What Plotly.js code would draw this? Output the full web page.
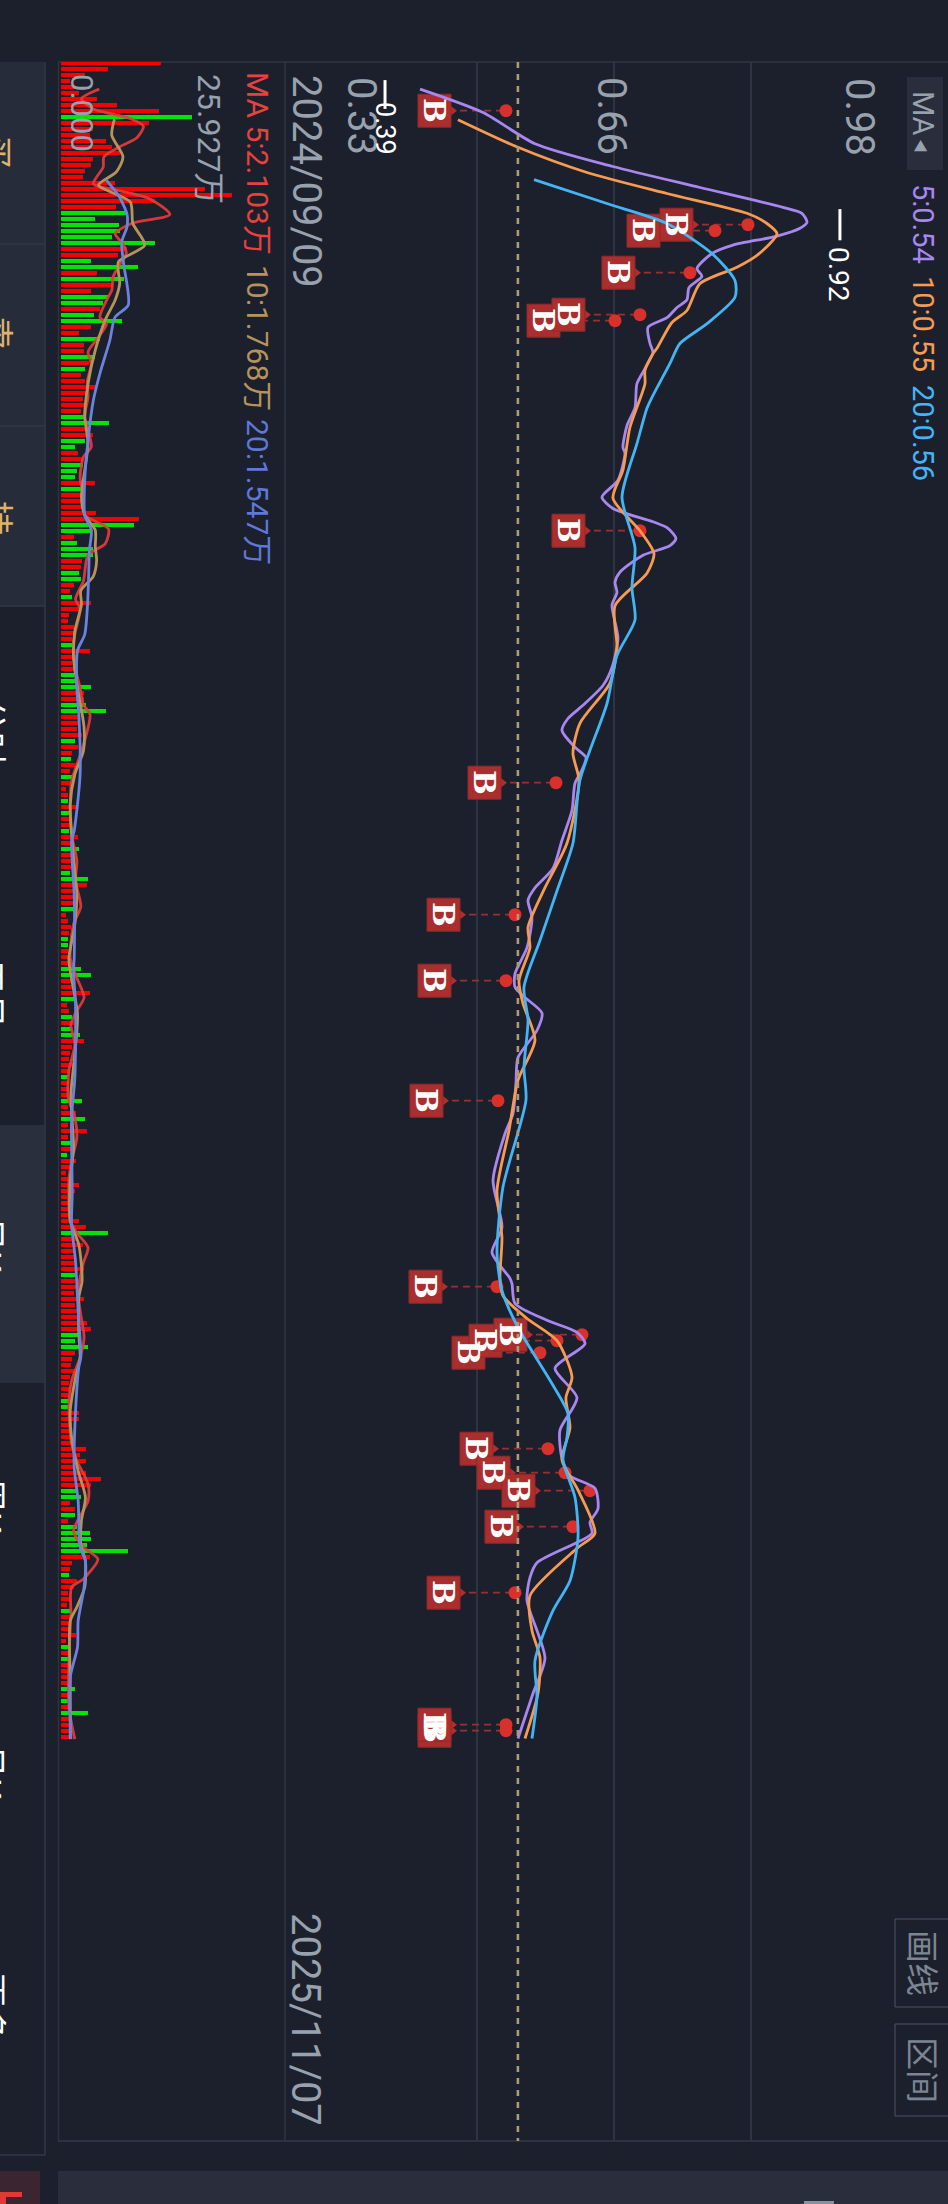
<!DOCTYPE html>
<html><head><meta charset="utf-8">
<script src="https://cdn.plot.ly/plotly-3.0.1.min.js"></script>
<style>html,body{margin:0;padding:0;background:#1c202c;overflow:hidden}#c{width:948px;height:2204px}</style>
</head><body><div id="c"></div>
<script>
// ---------- data ----------
const volumes=[15.2,7.1,3.6,1.4,2.1,2.7,5.5,8.5,14.9,19.9,
13.3,4.9,4.4,6.8,7.7,8.9,4.8,4.6,3.6,3.4,
8.2,21.9,25.9,14.2,8.3,9.8,5.2,8.8,8.9,7.7,
14.2,10.0,8.7,4.5,11.6,5.5,9.5,7.9,4.6,7.2,
6.4,5.9,5.0,9.2,4.6,2.8,5.9,3.5,3.5,5.2,
4.3,3.6,3.1,3.6,5.3,3.9,3.4,3.6,3.0,3.6,
7.3,3.6,4.9,3.7,2.1,2.6,3.4,3.3,2.4,2.1,
5.2,3.4,3.1,3.4,3.4,5.3,11.8,11.1,4.4,1.9,
2.4,4.9,4.9,3.2,3.1,2.7,3.1,2.0,1.4,1.7,
4.6,2.7,1.2,1.1,2.0,2.1,1.6,1.6,4.4,2.2,
1.6,1.9,2.0,2.2,4.5,3.5,3.5,3.8,6.8,2.7,
2.9,2.4,3.2,2.1,2.6,1.6,1.5,2.1,1.4,1.6,
1.4,0.8,1.1,1.1,2.3,1.2,1.2,1.4,1.2,2.6,
1.4,2.7,1.6,1.6,1.6,1.4,4.1,3.9,1.9,1.9,
1.9,1.9,0.8,1.1,1.5,1.2,1.0,1.0,1.1,1.1,
1.0,3.1,4.6,1.9,1.9,4.4,1.9,0.9,1.2,1.6,
1.9,1.5,2.9,3.5,1.7,1.4,1.2,1.9,1.4,1.1,
1.2,1.2,1.1,3.2,1.0,2.3,3.6,1.0,4.0,1.0,
1.5,1.6,0.9,2.2,1.4,0.8,1.4,2.7,2.1,0.9,
1.1,1.4,1.0,2.7,3.8,7.1,2.4,3.4,2.1,2.2,
2.2,3.5,2.1,2.1,2.4,2.0,3.5,2.1,3.1,2.4,
3.9,4.5,2.9,2.1,4.1,2.1,1.6,1.5,2.1,1.4,
1.2,1.5,1.0,1.2,1.2,2.8,2.7,1.6,1.5,1.4,
1.6,3.8,2.9,3.8,1.9,3.8,6.0,4.6,2.4,3.1,
1.4,2.1,2.1,1.1,2.5,4.4,4.6,3.9,10.2,4.4,
1.6,1.4,1.2,2.4,1.9,1.0,1.4,0.9,1.4,1.4,
1.4,1.4,2.2,0.8,1.2,1.1,1.2,1.2,1.2,1.4,
1.2,2.1,1.2,1.2,1.2,4.1,1.4,1.4,1.5,1.5];
const downSessions=[9,25,26,27,28,29,30,33,34,36,39,40,42,43,46,49,51,59,60,63,64,67,68,69,71,77,78,80,81,82,85,86,89,97,102,103,104,107,108,113,116,119,123,125,128,131,135,136,141,146,147,151,152,156,159,161,162,169,173,176,180,182,195,202,212,213,214,223,224,238,239,242,244,245,246,247,248,252,258,264,266,271,273,275];

const ma5Sessions=[4.4,8.3,13.5,17.3,20.8,24.1,25.1,26.6,27.6,28.9,30.4,31.8,34.3,35.6,37.5,39.5,40.8,42.5,44.1,46.8,48.3,51,53.5,57.5,60.5,64.1,65.1,69.6,72.4,74.3,76.5,77.6,79.3,80.5,82.1,84.9,86.6,88.3,90.4,95.9,100.8,103.8,107.1,109.3,111.3,114.1,115.8,117.9,120.1,124.6,129.6,134.3,137.5,139.6,142.5,147.5,151.8,154.1,155.8,158.4,161.3,165.8,170.1,175.1,178.5,186.3,194.1,198.3,202.6,203.5,206.8,209.6,211.6,213.5,217.6,222.5,227.9,232.6,235.5,237.6,241,243.3,245.1,250,252.5,256.3,265.9,271.8,279.3];
const ma5Prices=[.4249,.4996,.5613,.6538,.7570,.8554,.8779,.8839,.8756,.8483,.7961,.7712,.7534,.7593,.7439,.7415,.7297,.7178,.6953,.6977,.7012,.6917,.6822,.6799,.6704,.6656,.6680,.6597,.6407,.6538,.7012,.7190,.7285,.7214,.6894,.6621,.6562,.6585,.6526,.6597,.6526,.6419,.6182,.6004,.5933,.6087,.6218,.6170,.6087,.6052,.5933,.5826,.5613,.5530,.5577,.5518,.5376,.5376,.5494,.5696,.5636,.5411,.5387,.5352,.5257,.5115,.5221,.5103,.5316,.5340,.5376,.5755,.6111,.6206,.5850,.6111,.5909,.5933,.6028,.6324,.6360,.6265,.6289,.5636,.5553,.5518,.5731,.5589,.5411];

const ma10Sessions=[9.5,14.1,18.3,21.8,25.1,26.8,28.5,32,34.1,36.8,41.3,43.3,47.6,48.5,51.3,53.5,60.8,67.9,72.6,78,81.8,85.1,90.5,97.5,103.4,110.1,115.1,119.6,130.1,137.5,144.1,147.5,153,156.8,162.9,169.6,178,188,195.8,202.5,205.5,209.3,213,219.1,222.5,227.5,232.9,237.9,245.1,247.6,255.5,261.3,265.8,271.8,279.3];
const ma10Prices=[.4699,.5411,.6229,.7178,.8127,.8364,.8483,.8257,.8008,.7570,.7415,.7237,.7060,.7012,.6917,.6917,.6739,.6656,.6538,.6858,.7024,.6941,.6562,.6585,.6502,.6146,.6063,.6135,.5992,.5731,.5530,.5553,.5423,.5470,.5613,.5411,.5304,.5162,.5221,.5198,.5233,.5518,.5874,.6052,.5980,.6028,.5933,.6123,.6324,.6111,.5553,.5577,.5672,.5648,.5494];

const ma20Sessions=[19.5,23.8,26.8,31.8,36.3,39.1,43.5,46.8,50.1,55.8,57.6,63.5,72.4,80.8,87.5,92.9,98.8,106.8,119.6,130.1,138,146.3,154.1,159.6,167.5,172.9,187.4,198.4,204.6,210.8,219.6,225.1,229.1,232.9,239.1,245.8,253,258,266.3,272.4,279.3];
const ma20Prices=[.5601,.6538,.7178,.7712,.7985,.7985,.7653,.7332,.7214,.7000,.6941,.6822,.6645,.6799,.6763,.6799,.6585,.6467,.6146,.6063,.5874,.5672,.5482,.5530,.5482,.5506,.5233,.5162,.5221,.5411,.5791,.6004,.5992,.5945,.6087,.6123,.6028,.5826,.5613,.5636,.5577];

const volMa5Sessions=[4.4,6,7.7,9.3,10.6,12.5,14,15.7,17.4,20.2,21.3,22.7,25.3,26.8,28.5,30.2,31.8,34,35.7,37.9,39.6,42.4,43.5,45.7,48.2,50.2,53,55.7,59,64,65.7,69,72.4,75.4,77.7,80.2,82,86.4,89.4,91,95.3,98,102,104.2,107,108.6,113,117,119.7,124,128.6,133,136.4,140.6,143.6,149.2,152.5,155.8,158,160.3,163.6,168,172.5,175.8,179.2,183,186.4,193,195,197.5,200,204.7,208,212.5,215.8,219.7,223.6,230.2,233,236.9,239.7,244.7,247.4,249.4,252.7,254.1,258.6,266.3,274.1,279.4];
const volMa5Values=[5.8,3.1,4.9,10.5,12.5,11.5,8.9,6.5,6.4,4.9,8.7,13.5,16.5,10.7,8.2,9.4,9.9,8.7,7.9,7.7,6.9,5.9,6.9,5.7,4.1,4.6,4.0,4.1,3.6,4.6,3.4,2.9,3.4,3.6,7.2,6.7,4.1,3.4,2.2,2.9,2.1,1.9,2.4,2.9,3.4,4.4,3.6,2.4,1.6,1.4,1.6,2.4,2.2,3.0,1.9,1.4,2.4,3.5,2.4,1.5,2.1,1.2,1.1,2.1,2.4,1.6,1.2,1.4,2.4,4.1,3.4,2.6,2.9,3.5,2.9,1.6,1.2,1.6,2.4,4.1,4.1,1.9,3.4,5.6,3.4,1.6,1.5,1.2,1.2,2.1];

const volMa10Sessions=[9.4,12.1,15.7,18.2,20.4,23.2,26.8,30.4,33.2,36.8,39.6,42.9,47.9,53.5,59,63.5,72.4,75.4,77.9,80.7,83,85.6,88,90.3,94.7,99.2,104.2,110.8,114.7,118.6,123.6,132.5,138.6,143.6,149.2,151.4,158.6,165.3,172,180.8,186.4,193,197,203,205.8,212,215.8,219.7,224.7,229.1,234.7,239.1,243,246.9,249.7,254.1,257.4,259.7,269.7,279.4];
const volMa10Values=[8.1,7.7,9.4,8.4,5.7,10.5,10.9,12.7,8.7,8.9,8.2,6.7,5.2,4.1,3.6,4.1,3.1,3.6,5.2,5.2,5.4,4.9,3.0,3.1,2.1,1.9,2.5,3.5,3.4,2.1,1.4,1.9,2.4,2.1,1.2,1.4,2.5,2.1,1.5,1.9,1.4,1.4,2.7,3.2,2.7,2.7,2.9,2.1,1.4,1.6,2.6,3.7,3.1,3.0,3.7,3.6,2.4,1.4,1.4,1.4];

const volMa20Sessions=[19.6,22.1,25.2,27.4,29.9,33.5,40.4,42.4,46.3,51.8,56.3,62.9,69.6,75.4,77.9,81.3,85.3,90.8,95.3,98,104.2,108.6,118.6,128,129.7,138.6,149.2,151.4,156.9,169.2,175.8,188.6,193.6,199.7,208,215.8,217.4,227.4,234.1,239.7,247.4,249.7,254.1,259.7,264.1,269.1,279.4];
const volMa20Values=[6.9,8.7,10.0,10.0,9.2,9.5,10.2,8.2,7.4,5.9,4.9,4.1,3.6,3.6,4.6,4.3,4.2,4.0,3.6,2.5,2.4,2.7,2.9,2.0,1.6,2.0,2.0,1.9,2.2,2.1,1.6,1.7,1.6,2.2,2.6,3.0,2.7,2.1,2.0,2.6,2.9,3.7,3.5,2.6,2.5,1.4,1.5];

// buy signals, listed in paint order
const buySessions=[278,277,173,204,153,8,255,142,215,231,120,213,235,43,244,212,238,42,78,35,28,27];
const buyPrices=[.5269,.5269,.5174,.5162,.5269,.5269,.5376,.5376,.5672,.5767,.5862,.5874,.5969,.6562,.6063,.6170,.6265,.6858,.6858,.7451,.7748,.8139];

const priceGrid=[.33,.4925,.655,.8175];
const priceRange=[.33,.98];
const volMax=25.927;
const lastPrice=.541, highPrice=.923, lowPrice=.3834;
const highSession=27, lowSession=5.3;

const priceTicks=["0.98","0.66","0.33"];
const dateTicks=["2024/09/09","2025/11/07"];
const priceLegend=["5:0.54","10:0.55","20:0.56"];
const volLegend=["MA 5:2.103万","10:1.768万","20:1.547万"];

// ---------- page geometry ----------
const W=948,H=2204, plotTop=62,plotBottom=2141, k=(priceRange[1]-priceRange[0])/548;
const px=x=>x/W, py=y=>1-y/H;
const ids=volumes.map((_,i)=>i);
const down=new Set(downSessions);
const colBg='#1c202c', grey='#98a1ae';
const F="Roboto, 'Noto Sans CJK SC', sans-serif";

function mline(x,y,c,w,xa,op){return {type:'scatter',mode:'lines',x,y,xaxis:xa,yaxis:'y',opacity:op||1,hoverinfo:'skip',
  line:{color:c,width:w,shape:'spline',smoothing:.7}};}

const seg={x:[],y:[]};
buySessions.forEach((s,i)=>{seg.x.push(buyPrices[i]-46*k,buyPrices[i],null);seg.y.push(s,s,null);});

const traces=[
 {type:'bar',orientation:'h',x:volumes,y:ids,xaxis:'x2',yaxis:'y',width:.66,hoverinfo:'skip',
  marker:{color:ids.map(i=>down.has(i)?'#00e400':'#f60000'),line:{width:0}}},
 mline(volMa5Values,volMa5Sessions,'#e63b3b',2.8,'x2',.92),
 mline(volMa10Values,volMa10Sessions,'#b6935c',2.8,'x2'),
 mline(volMa20Values,volMa20Sessions,'#6a83df',2.8,'x2'),
 {type:'scatter',mode:'lines',x:seg.x,y:seg.y,xaxis:'x',yaxis:'y',hoverinfo:'skip',line:{color:'#97302f',width:1.8,dash:'7px,5px'}},
 {type:'scatter',mode:'markers',x:buyPrices.map(p=>p-55*k),y:buySessions,xaxis:'x',yaxis:'y',hoverinfo:'skip',
  marker:{symbol:'triangle-right',size:12,color:'#b02e2e'}},
 {type:'scatter',mode:'markers',x:buyPrices.map(p=>p-71.5*k),y:buySessions,xaxis:'x',yaxis:'y',hoverinfo:'skip',
  marker:{symbol:'square',size:33,color:'rgba(176,46,46,.97)',line:{color:'#8f2a2c',width:1}}},
 {type:'scatter',mode:'markers',x:buyPrices,y:buySessions,xaxis:'x',yaxis:'y',hoverinfo:'skip',
  marker:{symbol:'circle',size:13,color:'#d9302b'}},
 mline(ma5Prices,ma5Sessions,'#a887f0',2.8,'x'),
 mline(ma10Prices,ma10Sessions,'#f79a52',2.8,'x'),
 mline(ma20Prices,ma20Sessions,'#43b5f5',2.8,'x')
];

function label(t,x,y,size,color,weight,fam){return {text:t,xref:'paper',yref:'paper',x:px(x),y:py(y),xanchor:'center',yanchor:'middle',
  showarrow:false,textangle:90,font:{family:fam||F,size,color,weight:weight||400}};}
const ann=[
 label(priceTicks[0],860,117,40,grey),label(priceTicks[1],611,116,40,grey),label(priceTicks[2],361,116,40,grey),
 label(dateTicks[0],306,181,40,grey),label(dateTicks[1],306,2019,40,grey),
 label(priceLegend[0],923,224,29,'#a887f0'),label(priceLegend[1],923,324,29,'#f79a52'),label(priceLegend[2],923,433,29,'#43b5f5'),
 label('MA',923,113,29,grey),label('◀',921,146,14,grey),
 label(volLegend[0],257,163,30,'#e8413e'),label(volLegend[1],257,338,30,'#b6935c'),label(volLegend[2],257,492,30,'#5f78d8'),
 label('25.927万',209,139,32,grey),label('0.000',82,113,31,grey),
 label('0.92',839,274,28,'#ffffff'),label('0.39',385,128,27,'#ffffff'),
 label('画线',922,1963,33,'#7c8592'),label('区间',922,2070,33,'#7c8592'),
 // tab captions cut off by the page's left edge
 label('买',-5,152,34,'#dcb26e'),label('卖',-4,333,34,'#dcb26e'),label('持',-4,518,34,'#dcb26e'),
 label('分时',-11,732,34,'#ffffff'),label('五日',-11,994,34,'#ffffff'),label('日K',-11,1245,34,'#ffffff'),
 label('周K',-11,1506,34,'#ffffff'),label('月K',-11,1772,34,'#ffffff'),label('更多',-11,2007,34,'#ffffff')
];
buySessions.forEach((s,i)=>ann.push({text:'B',xref:'x',yref:'y',x:buyPrices[i]-71.5*k,y:s,xanchor:'center',yanchor:'middle',
  showarrow:false,textangle:90,font:{family:"'DejaVu Serif'",size:29,color:'#ffffff',weight:700}}));

function rect(x0,x1,y0,y1,fill,line){return {type:'rect',xref:'paper',yref:'paper',x0:px(x0),x1:px(x1),y0:py(y0),y1:py(y1),
  fillcolor:fill,line:line?{color:line,width:1}:{width:0},layer:'below'};}
function hl(x0,x1,y,c){return {type:'line',xref:'paper',yref:'paper',x0:px(x0),x1:px(x1),y0:py(y),y1:py(y),line:{color:c,width:1.5},layer:'below'};}
function vl(x,y0,y1,c,w){return {type:'line',xref:'paper',yref:'paper',x0:px(x),x1:px(x),y0:py(y0),y1:py(y1),line:{color:c,width:w||1.5},layer:'below'};}
const shapes=[
 rect(0,45,62,606,'#272c3a'),rect(0,45,1125,1383,'#2a2f3e'),
 hl(0,45,244,'#323746'),hl(0,45,426,'#323746'),hl(0,45,606,'#323746'),hl(0,45,2155,'#323746'),
 vl(45,62,2155,'#323746'),vl(58.5,plotTop,plotBottom,'#2c3140'),
 hl(58,948,plotTop,'#2f3442'),hl(58,948,plotBottom,'#343947'),
 vl(285,plotTop,plotBottom,'#2f3442'),
 rect(907,943,77,170,'#2a2e3c'),
 rect(895,950,1919,2007,'rgba(0,0,0,0)','#4a5260'),rect(895,950,2024,2116,'rgba(0,0,0,0)','#4a5260'),
 rect(58,948,2171,2204,'#2a2e3c'),rect(804,834,2201,2204,'#8a919c'),
 rect(0,40,2171,2204,'#3a2530'),rect(0,22,2192,2197,'#e23a32'),rect(0,6,2197,2204,'#e23a32'),
 {type:'line',xref:'x',yref:'paper',x0:lastPrice,x1:lastPrice,y0:py(plotTop),y1:py(plotBottom),line:{color:'#ad9a76',width:2.6,dash:'6px,6px'},layer:'above'},
 {type:'line',xref:'x',yref:'y',x0:highPrice,x1:highPrice,y0:highSession-2.6,y1:highSession+2.6,line:{color:'#ffffff',width:3}},
 {type:'line',xref:'x',yref:'y',x0:lowPrice,x1:lowPrice,y0:lowSession-2.4,y1:lowSession+2.4,line:{color:'#ffffff',width:3}}
];
const hidden={showline:false,zeroline:false,showticklabels:false,ticks:''};
const layout={width:W,height:H,margin:{l:0,r:0,t:0,b:0},paper_bgcolor:colBg,plot_bgcolor:'rgba(0,0,0,0)',showlegend:false,
 bargap:0,
 xaxis:{...hidden,domain:[px(340),px(888)],range:priceRange,tickmode:'array',tickvals:priceGrid,showgrid:true,gridcolor:'#2f3442',gridwidth:1.5,anchor:'y'},
 xaxis2:{...hidden,domain:[px(61),px(232)],range:[0,volMax],showgrid:false,anchor:'y'},
 yaxis:{...hidden,showgrid:false,domain:[py(plotBottom),py(plotTop)],range:[(plotBottom-62.7)/6,(plotTop-62.7)/6],anchor:'x'},
 annotations:ann,shapes};
Plotly.newPlot('c',traces,layout,{staticPlot:true,displayModeBar:false});
</script></body></html>
